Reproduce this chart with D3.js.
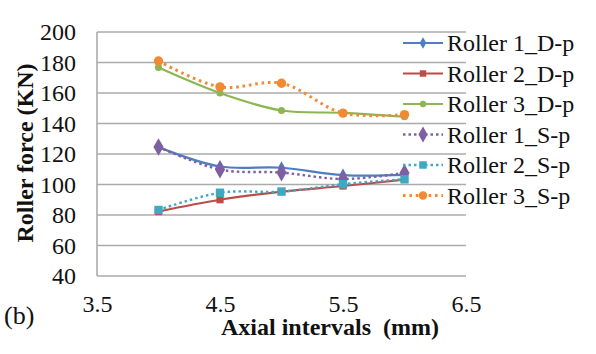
<!DOCTYPE html>
<html>
<head>
<meta charset="utf-8">
<script src="https://cdn.jsdelivr.net/npm/d3@7"></script>
<style>
  html, body { margin: 0; padding: 0; background: #fff; }
</style>
</head>
<body>
<svg id="chart" width="596" height="354"></svg>
<script>
// Axial interval positions (mm)
const intervals = [4, 4.5, 5, 5.5, 6];

// Roller force (KN) per series
const roller1D = [124.5, 111.8, 111.0, 106.2, 106.3];
const roller2D = [82.3, 90.0, 95.3, 99.0, 103.2];
const roller3D = [176.7, 160.0, 148.5, 147.0, 144.5];
const roller1S = [124.6, 109.8, 107.8, 103.6, 107.6];
const roller2S = [83.3, 94.6, 95.4, 100.2, 103.5];
const roller3S = [181.0, 164.0, 166.4, 146.8, 145.8];

const seriesNames = ["Roller 1_D-p", "Roller 2_D-p", "Roller 3_D-p", "Roller 1_S-p", "Roller 2_S-p", "Roller 3_S-p"];
const seriesValues = [roller1D, roller2D, roller3D, roller1S, roller2S, roller3S];

const xTicks = [3.5, 4.5, 5.5, 6.5];
const yTicks = [40, 60, 80, 100, 120, 140, 160, 180, 200];

const FONT = '"Liberation Serif"';

// Styling per series
const styles = [
  { color: "#4F7EC0", dash: null, marker: "diamond", size: 48, width: 2.2 },
  { color: "#BE4B48", dash: null, marker: "square", size: 52, width: 2.2 },
  { color: "#8DB652", dash: null, marker: "circle", size: 40, width: 2.2 },
  { color: "#7E5FA3", dash: "2.5,3", marker: "diamond", size: 90, width: 2.4 },
  { color: "#3FA8C2", dash: "2.5,3", marker: "square", size: 70, width: 2.4 },
  { color: "#F08A35", dash: "2.6,3.8", marker: "circle", size: 70, width: 3 }
];

const svg = d3.select("#chart");
const plot = { left: 97, right: 466, top: 32, bottom: 276 };

const x = d3.scaleLinear().domain([3.5, 6.5]).range([plot.left, plot.right]);
const y = d3.scaleLinear().domain([40, 200]).range([plot.bottom, plot.top]);

// Horizontal gridlines
svg.append("g")
  .selectAll("line")
  .data(yTicks)
  .join("line")
  .attr("x1", plot.left).attr("x2", plot.right)
  .attr("y1", d => y(d)).attr("y2", d => y(d))
  .attr("stroke", "#ababab").attr("stroke-width", 1.6);

// Left axis line
svg.append("line")
  .attr("x1", plot.left).attr("x2", plot.left)
  .attr("y1", plot.top).attr("y2", plot.bottom)
  .attr("stroke", "#ababab").attr("stroke-width", 1.6);

// Y tick labels
const yAxis = d3.axisLeft(y).tickValues(yTicks).tickSize(0).tickPadding(21);
const gy = svg.append("g").attr("transform", `translate(${plot.left},0)`).call(yAxis);
gy.select(".domain").remove();
gy.attr("font-family", null).attr("font-size", null);
gy.selectAll("text").style("font-size", "24px").style("font-family", FONT).attr("fill", "#111");

// X tick labels (placed below the plot)
const xAxis = d3.axisBottom(x).tickValues(xTicks).tickSize(0).tickPadding(0).tickFormat(d3.format(".1f"));
const gx = svg.append("g").attr("transform", `translate(0,${plot.bottom + 21})`).call(xAxis);
gx.select(".domain").remove();
gx.attr("font-family", null).attr("font-size", null);
gx.selectAll("text").style("font-size", "24px").style("font-family", FONT).attr("fill", "#111").attr("dy", "0.62em");

// Axis titles
svg.append("text")
  .attr("x", 330).attr("y", 335)
  .attr("text-anchor", "middle")
  .style("font-family", FONT).style("font-size", "24px").style("font-weight", "bold")
  .style("white-space", "pre")
  .attr("fill", "#111")
  .text("Axial intervals  (mm)");

svg.append("text")
  .attr("transform", "translate(33,153) rotate(-90)")
  .attr("text-anchor", "middle")
  .style("font-family", FONT).style("font-size", "24px").style("font-weight", "bold")
  .attr("fill", "#111")
  .text("Roller force (KN)");

svg.append("text")
  .attr("x", 4).attr("y", 324)
  .style("font-family", FONT).style("font-size", "26px")
  .attr("fill", "#111")
  .text("(b)");

// Marker symbols
const symbolType = { diamond: d3.symbolDiamond, square: d3.symbolSquare, circle: d3.symbolCircle };

const line = d3.line()
  .x(d => x(d[0]))
  .y(d => y(d[1]))
  .curve(d3.curveCatmullRom.alpha(0.5));

// Draw series lines then markers
seriesValues.forEach((vals, i) => {
  const st = styles[i];
  const pts = intervals.map((xv, j) => [xv, vals[j]]);
  svg.append("path")
    .datum(pts)
    .attr("d", line)
    .attr("fill", "none")
    .attr("stroke", st.color)
    .attr("stroke-width", st.width)
    .attr("stroke-dasharray", st.dash)
    .attr("stroke-linecap", st.dash ? "butt" : "round");
});
seriesValues.forEach((vals, i) => {
  const st = styles[i];
  const pts = intervals.map((xv, j) => [xv, vals[j]]);
  svg.append("g")
    .selectAll("path")
    .data(pts)
    .join("path")
    .attr("transform", d => `translate(${x(d[0])},${y(d[1])})`)
    .attr("d", d3.symbol().type(symbolType[st.marker]).size(st.size))
    .attr("fill", st.color);
});

// Legend
const legend = svg.append("g");
seriesNames.forEach((name, i) => {
  const st = styles[i];
  const cy = 43 + i * 30.5;
  legend.append("line")
    .attr("x1", 403).attr("x2", 443)
    .attr("y1", cy).attr("y2", cy)
    .attr("stroke", st.color)
    .attr("stroke-width", st.width)
    .attr("stroke-dasharray", st.dash);
  legend.append("path")
    .attr("transform", `translate(423,${cy})`)
    .attr("d", d3.symbol().type(symbolType[st.marker]).size(st.size * 0.8))
    .attr("fill", st.color);
  legend.append("text")
    .attr("x", 447).attr("y", cy)
    .attr("dy", "0.35em")
    .style("font-family", FONT).style("font-size", "24px")
    .attr("fill", "#111")
    .text(name);
});
</script>
</body>
</html>
